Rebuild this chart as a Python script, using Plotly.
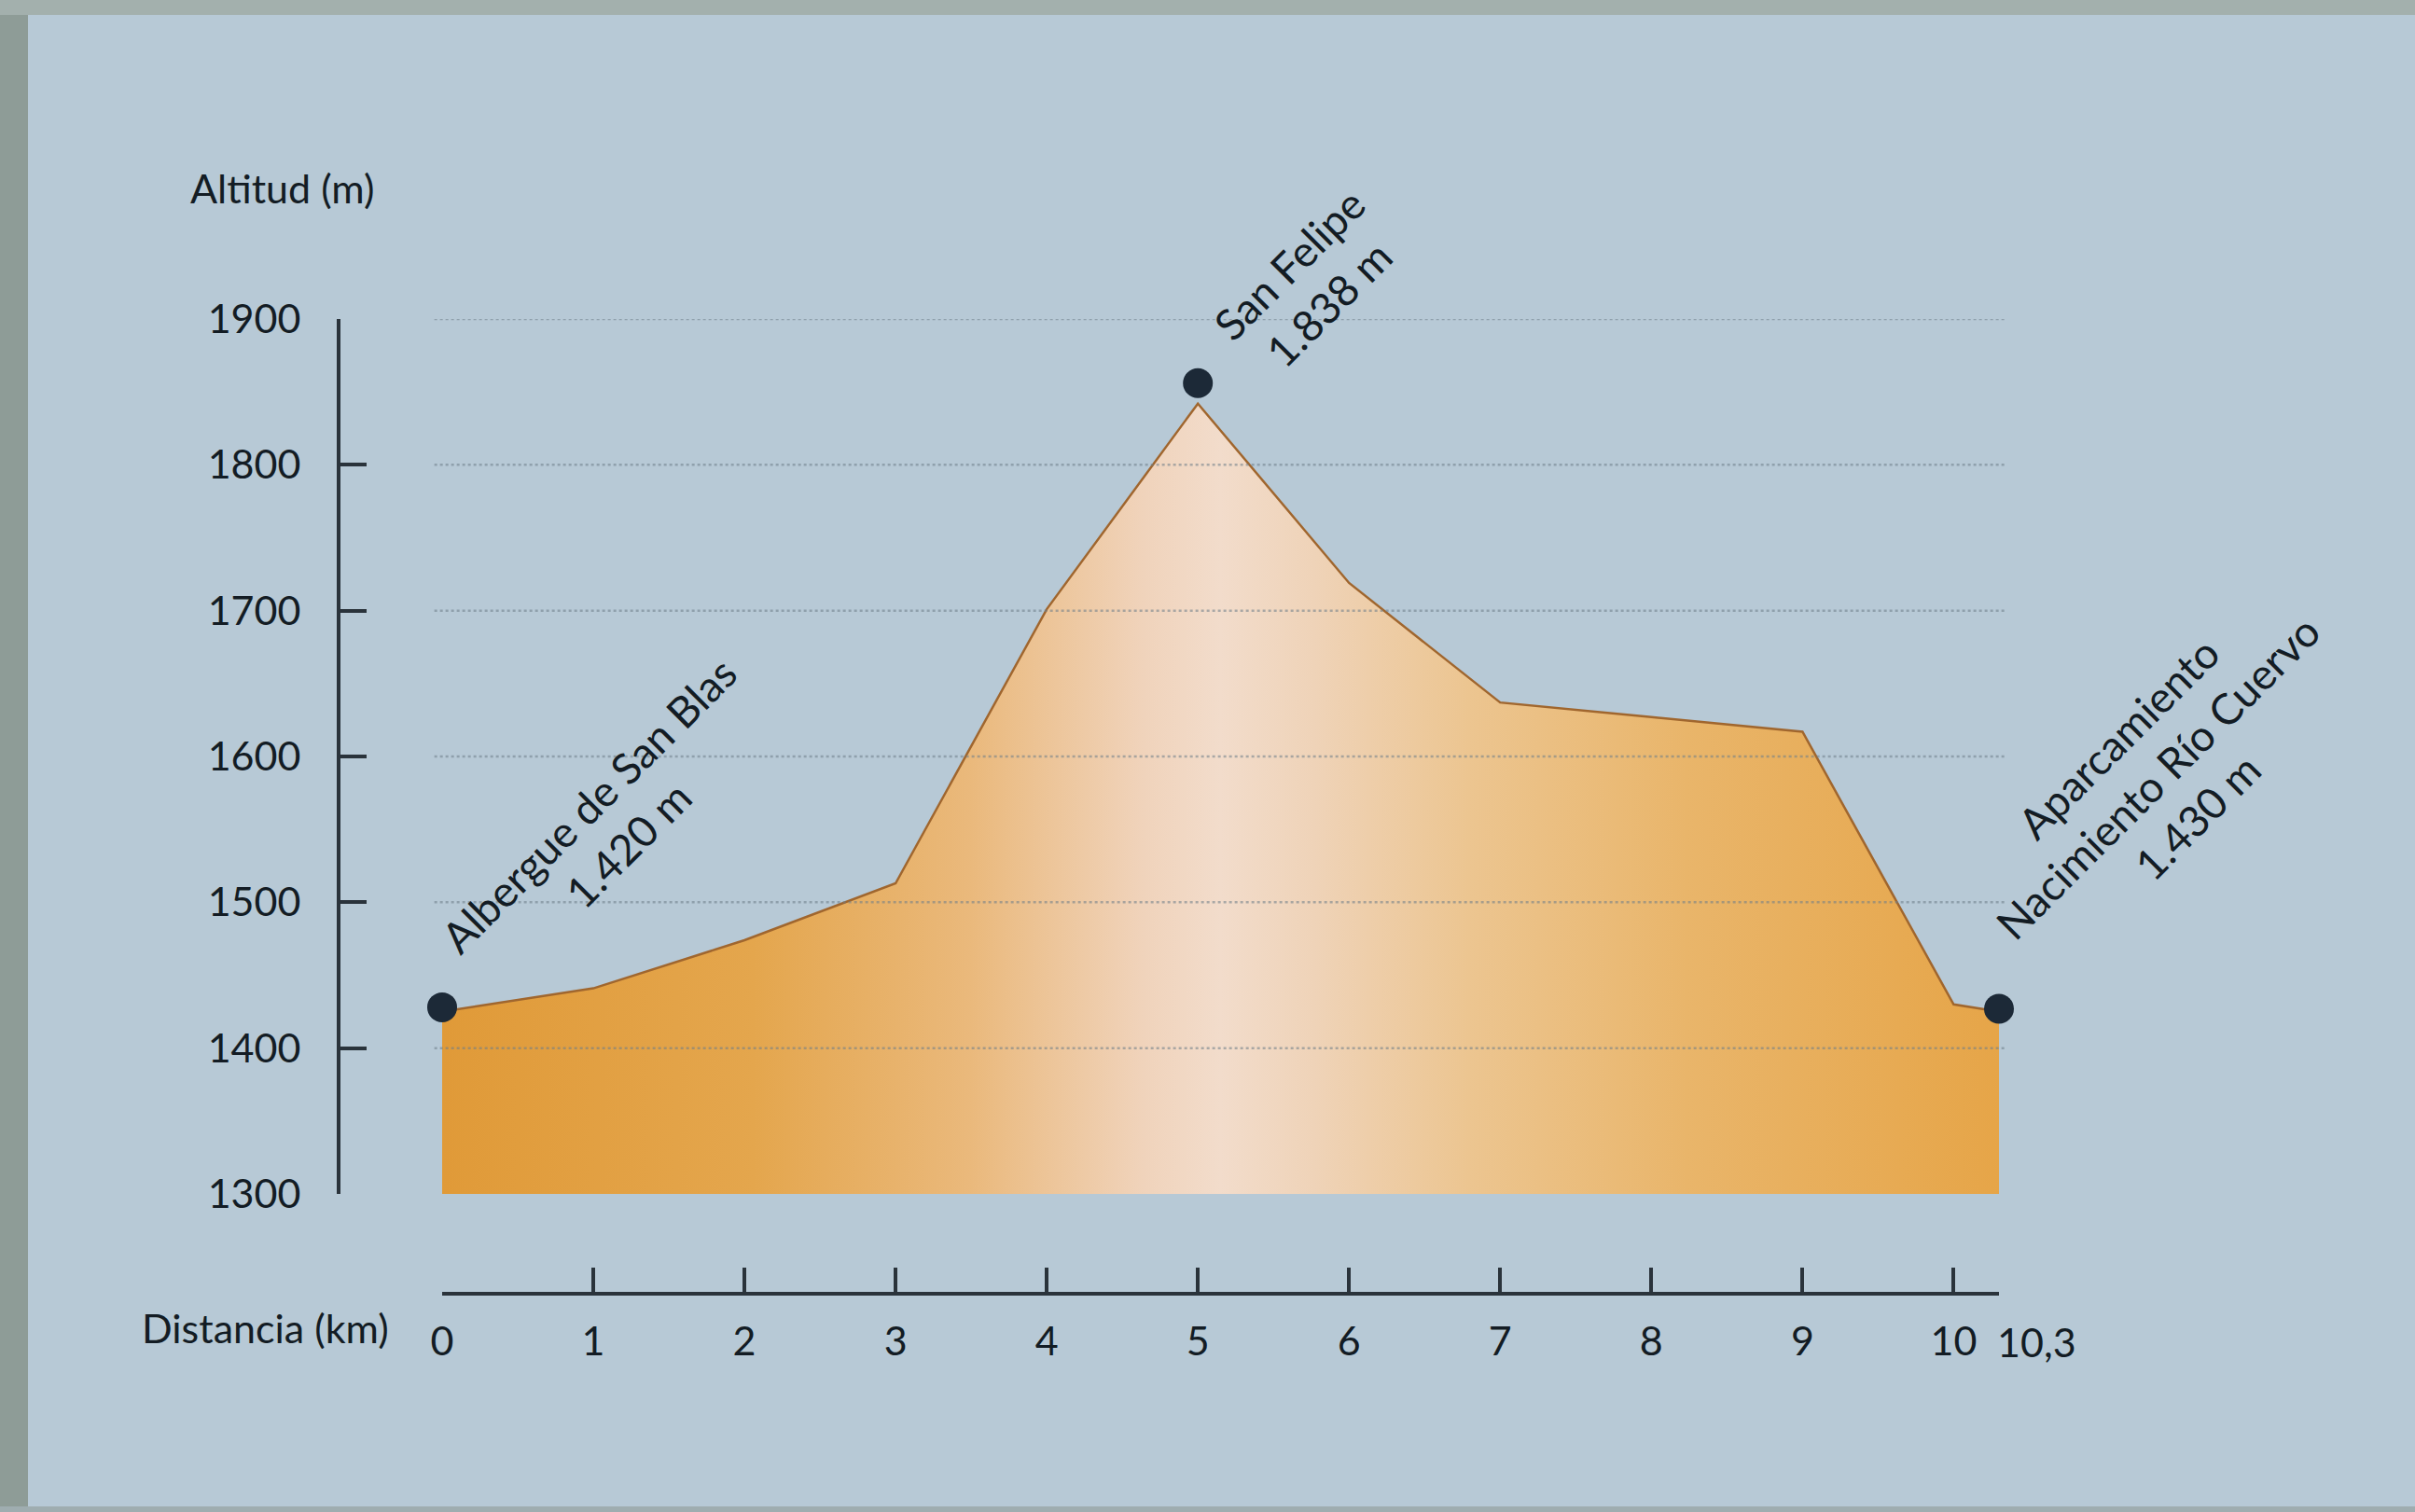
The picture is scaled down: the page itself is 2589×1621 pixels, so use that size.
import plotly.graph_objects as go

# ---------------- data ----------------
dist_km = [0, 1, 2, 3, 4, 5, 6, 7, 8, 9, 10, 10.3]
altitude_m = [1425, 1441, 1474, 1513, 1701, 1842, 1719, 1637, 1627, 1617, 1430, 1425]

poi_dist = [0, 5, 10.3]
poi_alt = [1428, 1856, 1427]
poi_labels = [
    "Albergue de San Blas<br>1.420 m",
    "San Felipe<br>1.838 m",
    "Aparcamiento<br>Nacimiento Río Cuervo<br>1.430 m",
]

y_tickvals = [1300, 1400, 1500, 1600, 1700, 1800, 1900]
x_tickvals = [0, 1, 2, 3, 4, 5, 6, 7, 8, 9, 10, 10.3]
x_ticktext = ["0", "1", "2", "3", "4", "5", "6", "7", "8", "9", "10", "10,3"]

# label offsets (px) relative to each point of interest
label_shift_x = [178, 119, 170]
label_shift_y = [195, 106, 248]

FONT = "Lato"
INK = "#131c24"
W, H = 2589, 1621

fig = go.Figure()

# elevation profile area
fig.add_trace(go.Scatter(
    x=dist_km, y=altitude_m,
    mode="lines",
    line=dict(color="#a0662e", width=2.5),
    fill="tozeroy",
    fillgradient=dict(
        type="horizontal",
        colorscale=[
            [0.0, "#e09a38"],
            [0.2, "#e4a64d"],
            [0.34, "#eab97c"],
            [0.45, "#f0d3bb"],
            [0.5, "#f2dccb"],
            [0.56, "#efd3b8"],
            [0.66, "#ecc590"],
            [0.8, "#e9b56a"],
            [1.0, "#e6a548"],
        ],
    ),
    hoverinfo="skip",
    showlegend=False,
))

# points of interest
fig.add_trace(go.Scatter(
    x=poi_dist, y=poi_alt,
    mode="markers",
    marker=dict(size=32, color="#1c2937"),
    cliponaxis=False,
    showlegend=False,
    hoverinfo="skip",
))

# dotted horizontal guide lines (drawn over the area)
for v in y_tickvals[1:]:
    fig.add_shape(type="line", xref="x domain", yref="y",
                  x0=-0.005, x1=1.005, y0=v, y1=v,
                  line=dict(color="#6f7f8a", width=2.5, dash="dot"),
                  opacity=0.55, layer="above")

# photo frame edges
fig.add_shape(type="rect", xref="paper", yref="paper", x0=0, x1=30 / W, y0=0, y1=1,
              fillcolor="#8e9c97", line=dict(width=0), layer="below")
fig.add_shape(type="rect", xref="paper", yref="paper", x0=0, x1=1, y0=1 - 16 / H, y1=1,
              fillcolor="#a3b0ad", line=dict(width=0), layer="below")
fig.add_shape(type="rect", xref="paper", yref="paper", x0=0, x1=1, y0=0, y1=6 / H,
              fillcolor="#9fadb0", line=dict(width=0), layer="below")

annotations = []
for px, py, txt, sx, sy in zip(poi_dist, poi_alt, poi_labels, label_shift_x, label_shift_y):
    annotations.append(dict(
        x=px, y=py, xref="x", yref="y", text=txt, showarrow=False,
        textangle=-45, xshift=sx, yshift=sy, align="center",
        xanchor="center", yanchor="middle",
        font=dict(family=FONT, size=46, color=INK),
    ))

annotations.append(dict(x=302 / W, y=1 - 201 / H, xref="paper", yref="paper",
                        text="Altitud (m)", showarrow=False,
                        xanchor="center", yanchor="middle",
                        font=dict(family=FONT, size=43, color=INK)))
annotations.append(dict(x=284 / W, y=1 - 1423 / H, xref="paper", yref="paper",
                        text="Distancia (km)", showarrow=False,
                        xanchor="center", yanchor="middle",
                        font=dict(family=FONT, size=43, color=INK)))
# last distance label sits just right of its tick
annotations.append(dict(x=x_tickvals[-1], y=1 - 1438 / H, xref="x", yref="paper",
                        text=x_ticktext[-1], showarrow=False,
                        xanchor="left", yanchor="middle", xshift=-4,
                        font=dict(family=FONT, size=43, color=INK)))

fig.update_layout(
    width=W, height=H, autosize=False,
    margin=dict(l=0, r=0, t=0, b=0, pad=0, autoexpand=False),
    paper_bgcolor="#b7c9d6",
    plot_bgcolor="rgba(0,0,0,0)",
    annotations=annotations,
    xaxis=dict(
        range=[0, 10.3],
        domain=[474 / W, 2143 / W],
        anchor="free", position=(H - 1387) / H,
        automargin=False,
        tickvals=x_tickvals, ticktext=x_ticktext[:-1] + [""],
        tickangle=0,
        ticks="inside", ticklen=26, tickwidth=3.5, tickcolor="#2a333b",
        showline=True, linecolor="#2a333b", linewidth=4,
        showgrid=False, zeroline=False,
        tickfont=dict(family=FONT, size=43, color=INK),
        ticklabelstandoff=12,
        fixedrange=True,
    ),
    yaxis=dict(
        range=[1300, 1900],
        domain=[(H - 1280) / H, (H - 342) / H],
        anchor="free", position=363 / W,
        automargin=False,
        tickvals=y_tickvals,
        ticks="inside", ticklen=28, tickwidth=3.5, tickcolor="#2a333b",
        showline=True, linecolor="#2a333b", linewidth=4,
        showgrid=False, zeroline=False,
        tickfont=dict(family=FONT, size=43, color=INK),
        ticklabelstandoff=30,
        fixedrange=True,
    ),
)

post = (
    "var gd=document.getElementById('{plot_id}');"
    "gd.style.position='fixed';gd.style.left='0px';gd.style.top='0px';"
    "document.body.style.margin='0';document.body.style.overflow='hidden';"
)

fig.write_html("out.html", config={"displayModeBar": False}, post_script=post)
